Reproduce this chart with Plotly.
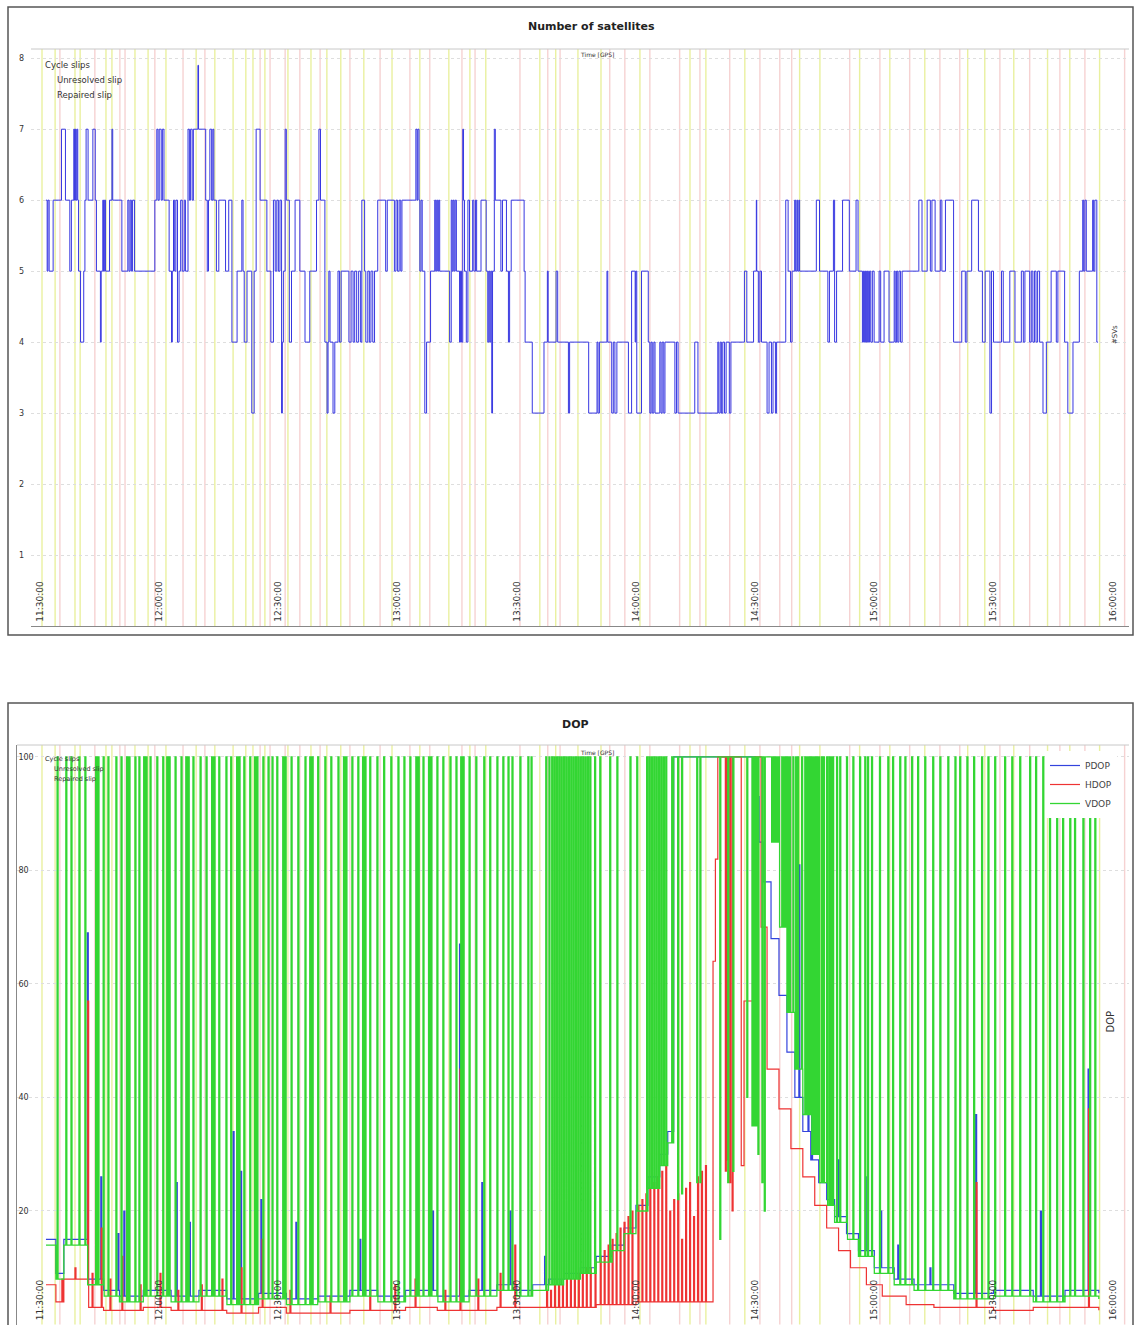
import plotly.graph_objects as go

# ---------------- DATA (time = minutes after 11:30:00 GPS) ----------------
tick_minutes = [0, 30, 60, 90, 120, 150, 180, 210, 240, 270]
tick_labels = ["11:30:00", "12:00:00", "12:30:00", "13:00:00", "13:30:00",
               "14:00:00", "14:30:00", "15:00:00", "15:30:00", "16:00:00"]

# number of satellites: (time of change, count)
sv_steps = [
    (1.5,6),(1.8,5),(2.0,6),(2.3,5),(3.3,6),(5.4,7),(6.4,6),(7.5,5),(7.9,6),(8.5,7),(8.7,6),(8.9,7),(9.1,6),(9.3,7),(9.5,6),(9.7,5),(10.2,4),(11.0,5),(11.3,6),(11.6,7),(12.1,6),(13.3,7),(13.9,6),(14.2,5),(15.2,4),(15.4,5),(15.8,6),(16.0,5),(16.2,6),(16.5,5),(17.5,6),(18.1,7),(18.3,6),(20.6,5),(22.1,6),(22.4,5),(22.7,6),(23.0,5),(23.3,6),(23.8,5),
    (28.9,6),(29.4,7),(29.7,6),(30.0,7),(30.5,6),(30.8,7),(31.2,6),(32.5,5),(33.1,4),(33.3,5),(33.6,6),(33.9,5),(34.2,6),(34.6,4),(35.0,5),(35.4,6),(35.8,5),(36.3,6),(36.6,5),(37.25,7),(37.6,6),(37.9,7),(38.3,6),(38.6,7),(39.75,7.9),(39.9,7),(41.7,6),(42.1,5),(42.4,6),(42.75,7),(43.2,6),(43.5,7),(43.75,6),(44.4,5),(45.0,6),(46.7,5),(47.5,6),(48.3,4),(49.6,5),(50.8,6),(51.1,5),(51.4,4),(52.1,5),(53.3,3),(53.9,5),(54.4,7),(55.4,6),(57.1,5),(58.1,4),(58.75,6),(59.2,5),(59.6,6),(60.0,5),(60.4,6),(60.8,3),(61.0,4),(61.25,5),(61.7,7),(62.0,6),(62.75,4),(63.3,5),(64.2,6),(65.4,5),(66.7,4),(67.9,5),(69.6,6),(70.2,7),(70.6,6),(71.7,4),(72.25,3),(72.5,4),(72.7,5),(73.0,4),(73.75,3),(74.2,4),(75.0,5),(75.4,4),(75.8,5),(77.75,4),(78.3,5),(78.8,4),(79.2,5),(79.7,4),(80.2,5),(80.7,4),(81.0,6),(81.7,5),(82.0,4),(82.5,5),(82.9,4),(83.3,5),(83.75,4),(84.2,5),(85.0,6),(87.0,5),(87.4,6),(89.2,5),(89.6,6),(90.0,5),(90.4,6),
    (90.8,5),(91.1,6),(94.6,7),(94.9,6),(95.1,7),(95.4,6),(95.6,5),(95.9,6),(96.2,5),(96.85,3),(97.3,4),(98.3,5),(99.35,6),(99.6,5),(99.85,6),(100.1,5),(100.35,6),(100.6,5),(103.1,4),(103.5,6),(103.75,5),(104.0,6),(104.25,5),(104.5,6),(104.8,5),(105.6,4),(105.85,5),(106.1,4),(106.4,7),(106.6,6),(106.85,5),(107.3,4),(107.7,6),(108.1,5),(108.9,6),(109.2,5),(109.6,6),(109.9,5),(111.0,6),(112.3,5),(112.7,4),(112.95,5),(113.2,4),(113.45,5),(113.7,3),(113.9,5),(114.35,7),(114.6,6),(116.0,5),(116.4,6),(117.4,5),(117.9,4),(118.2,5),(118.6,6),(121.85,5),(122.1,4),(123.9,3),(126.85,4),(127.7,5),(127.9,4),(129.9,5),(130.3,4),(133.0,3),(133.3,4),(138.1,3),(140.2,4),(140.45,3),(140.8,4),(142.7,5),(142.9,4),(143.9,3),(144.3,4),(144.7,3),(145.2,4),(148.1,3),(148.9,5),(149.8,4),(149.95,5),(150.2,3),(151.4,5),(153.1,4),(153.5,3),(153.8,4),(154.1,3),(154.5,4),(154.8,3),(156.0,4),(156.3,3),(156.6,4),(157.0,3),(157.3,4),(159.8,3),(160.2,4),(160.6,3),(164.8,4),(165.6,3),(170.6,4),(170.85,3),(171.2,4),(171.5,3),(171.85,4),(172.3,3),(172.7,4),(173.5,3),(173.9,4),(177.3,5),(177.9,4),(179.6,5),(180.3,6),(180.4,5),(180.8,4),
    (181.2,5),(181.6,4),(183.0,3),(183.5,4),(184.1,3),(184.5,4),(185.1,3),(185.4,4),(187.7,6),(188.3,5),(188.9,4),(189.3,5),(189.95,6),(190.2,5),(190.5,6),(190.7,5),(191.0,6),(191.2,5),(195.4,6),(196.2,5),(198.3,4),(198.7,5),(199.7,6),(200.0,4),(200.5,5),(202.0,6),(203.7,5),(205.4,6),(205.9,5),(207.0,4),(207.25,5),(207.5,4),(207.75,5),(208.0,4),(208.25,5),(208.5,4),(208.8,5),(209.1,4),(209.5,5),(209.95,4),(211.2,5),(211.6,4),(212.45,5),(213.7,4),(215.0,5),(215.25,4),(215.6,5),(215.9,4),(216.2,5),(216.6,4),(217.0,5),(221.2,6),(222.0,5),(223.3,6),(224.1,5),(224.5,6),(225.3,5),(226.6,6),(227.0,5),(227.9,6),(229.95,4),(232.0,5),(232.9,4),(233.3,5),(234.5,6),(236.2,5),(237.2,4),(237.9,5),(239.1,3),(239.5,5),(240.0,4),(242.0,5),(242.45,4),(244.1,5),(245.4,4),(247.0,5),(247.5,4),(247.9,5),(249.1,4),(249.5,5),(249.9,4),(250.3,5),(250.7,4),(251.1,5),(251.6,4),(252.45,3),(253.3,4),(254.5,5),(255.8,4),(256.2,5),(257.9,4),(258.7,3),(260.0,4),(261.6,5),(262.45,6),(262.7,5),(263.0,6),(263.35,5),(264.95,6),(265.2,5),(265.5,6),(266.0,4),(266.3,4),
]

# cycle slip epochs
unresolved_slips = [0.5, 3.8, 8.8, 10.1, 16.6, 18.1, 23.9, 27.2, 31.7, 39.3, 44.0, 48.6, 51.8, 53.6, 56.6, 62.4, 68.2, 72.2, 75.7, 81.5, 88.6, 95.6, 102.9, 108.2, 112.2, 125.8, 129.8, 135.4, 141.2, 151.0, 163.6, 167.6, 177.4, 191.2, 196.3, 206.3, 213.9, 222.7, 233.5, 237.8, 245.1, 253.6, 259.2, 266.7]
repaired_slips = [5.0, 13.8, 20.1, 21.4, 28.9, 36.0, 41.5, 55.4, 57.9, 61.7, 65.4, 70.5, 78.0, 85.6, 93.1, 98.1, 106.2, 109.5, 120.8, 127.8, 130.9, 143.4, 147.2, 153.5, 161.0, 166.1, 173.6, 181.2, 186.2, 189.2, 203.8, 211.4, 218.9, 226.5, 231.5, 241.6, 249.1, 256.7, 263.0, 273.0]

# DOP baselines (time, value)
vdop_base = [(1.5,14),(4,8),(6,14),(12,7),(16,5),(20,4),(26,5),(33,4),(40,5),(47,3.5),(55,4.5),(62,3.5),(70,4),(78,5),(85,4),(92,5),(100,4),(108,5),(115,6),(120,5),(124,6),(128,7),(132,8),(136,9),(140,11),(144,13),(147,16),(150,20),(153,24),(156,28),(158,32),(159.5,100),(183,100),(184,85),(186,70),(188,55),(190,45),(192,37),(194,30),(196,25),(198,21),(200,18),(203,15),(206,12),(210,9),(215,7),(220,6),(230,4.5),(240,5),(250,4),(258,5),(266.5,4.5)]
pdop_base = [(1.5,15),(4,9),(6,15),(12,8),(16,6),(20,5),(26,6),(33,5),(40,6),(47,4.5),(55,5.5),(62,4.5),(70,5),(78,6),(85,5),(92,6),(100,5),(108,6),(115,7),(120,6),(124,7),(128,8),(132,9),(136,10),(140,12),(144,14),(147,17),(150,21),(153,26),(156,30),(158,34),(159.5,100),(180,93),(181,85),(182,78),(184,68),(186,58),(188,48),(190,40),(192,34),(194,29),(196,25),(198,22),(200,19),(203,16),(206,13),(210,10),(215,8),(220,7),(230,5.5),(240,6),(250,5),(258,6),(266.5,5.5)]
hdop_base = [(1.5,7),(4,4),(6,8),(12,3),(16,2.5),(26,3),(33,2.5),(47,2),(55,3),(62,2),(78,2.5),(92,3),(100,2.5),(115,3),(124,3),(140,3.5),(150,4),(169.4,64),(170,82),(170.6,100),(176.5,28),(177.2,57),(180,100),(181.5,70),(183,45),(186,38),(189,31),(192,26),(195,21),(198,17),(201,13),(204,10),(208,7),(212,5),(218,3.5),(225,3),(240,2.5),(250,3),(266.5,2.5)]

# epochs where VDOP hits the 100 clip
vdop_spike_t = [4.3, 6.5, 7.8, 9.8, 11.3, 14.0, 14.3, 14.6, 15.9, 17.1, 19.1, 20.4, 21.8, 22.1, 22.4, 23.9, 24.9, 26.1, 26.4, 26.7, 27.7, 29.4,
                30.9, 31.9, 32.2, 32.5, 34.0, 35.5, 36.7, 37.0, 37.3, 38.5, 40.3, 41.8, 43.2, 43.5, 43.8, 45.0, 46.8, 48.0, 49.5, 49.8, 50.1, 51.3, 52.8, 54.0, 54.3, 54.6, 56.1, 57.4, 58.4, 59.6,
                61.1, 61.4, 61.7, 63.2, 64.9, 66.7, 67.9, 68.2, 68.5, 69.9, 71.7, 73.2, 75.0, 76.4, 76.7, 77.0, 78.5, 80.0, 81.2, 81.5, 81.8, 83.0, 84.8, 86.5, 88.3, 90.1,
                91.6, 93.1, 94.6, 94.9, 95.2, 96.4, 97.8, 98.1, 98.4, 99.9, 101.4, 103.2, 104.7, 105.9, 106.2, 106.5, 108.0, 109.7, 111.7, 113.2, 115.0, 116.5, 117.8, 118.8, 120.8, 122.8, 123.6,
                127.3, 128.1, 128.8, 129.4, 130.0, 130.6, 131.2, 131.8, 132.4, 133.0, 133.6, 134.2, 134.8, 135.4, 136.0, 136.6, 137.2, 137.8, 138.4,
                139.6, 140.9, 143.4, 145.2, 148.5, 150.2, 152.7, 153.3, 153.9, 154.5, 155.1, 155.7, 156.3, 156.9, 157.5, 159.0,
                182.9, 183.4, 183.9, 184.4, 184.9, 185.4, 185.9, 186.7, 187.2, 187.7, 188.2, 188.7, 189.5, 190.2, 190.7, 191.7, 192.5, 193.0, 193.5, 194.0, 194.5, 195.0, 195.5, 196.0, 196.7, 197.2, 198.0, 198.6, 199.0, 199.5,
                200.5, 201.3, 203.0, 204.6, 206.3, 207.6, 208.3, 209.3, 211.3, 213.4, 214.6, 216.4, 217.7, 219.4, 220.9, 222.7, 224.7, 226.5, 228.5, 230.3, 231.5, 233.3, 235.0, 237.0, 238.6, 240.3,
                242.8, 244.6, 246.6, 249.1, 250.6, 252.4, 254.1, 255.9, 257.4, 259.2, 260.4, 262.5, 264.2, 265.5]
# short drops of VDOP while it sits on the clip
vdop_dips = [(160.5,22),(161.5,23),(165.3,25),(166.1,25),(171.1,15),(173.1,25),(174.4,27),(177.9,40),(179.2,35),(179.7,35),(180.2,35),(180.7,30),(181.7,25),(182.3,20)]
# isolated PDOP / HDOP peaks
pdop_peaks = [(11.9,69),(15.3,26),(19.6,16),(21.1,20),(34.3,25),(37.6,18),(48.6,34),(50.5,27),(55.6,22),(64.4,18),(80.5,15),(98.8,20),(105.6,67),(111.2,25),(118.3,20),(127.0,12),(191.0,81),(193.3,53),(194.2,47),(199.2,31),(200.9,29),(208.1,26),(211.6,20),(215.9,14),(224.0,10),(235.5,37),(251.8,20),(263.8,45)]
hdop_peaks = [(5.5,8),(8.8,10),(12.0,57),(13.1,9),(15.4,17),(17.6,8),(20.6,12),(25.2,7),(30.2,9),(34.7,6),(40.6,7),(45.8,8),(50.6,10),(55.9,15),(62.9,6),(73.0,5),(83.0,6),(89.3,7),(94.4,8),(101.9,6),(105.7,45),(110.2,8),(115.8,9),(119.5,14),
              (127.5,6),(128.5,6),(129.5,7),(130.5,7),(131.5,7),(132.5,8),(133.5,8),(134.5,8),(135.5,9),(136.5,9),(137.5,10),(138.5,10),(139.7,11),(141.0,12),(142.0,13),(143.0,14),(144.0,15),(145.0,16),(146.0,17),(147.0,18),(148.0,19),(149.0,20),(150.5,21),(151.5,22),(152.5,23),(153.5,24),(154.5,25),(155.5,26),(156.5,27),(157.5,28),(158.5,20),(159.5,22),(160.5,23),(161.5,15),(162.5,24),(163.5,25),(164.5,19),(165.5,26),(166.5,27),(167.5,28),
              (172.5,27),(173.0,29),(173.6,25),(174.2,20),(235.6,25),(263.9,38)]

EPOCH = 0.25      # sampling interval (min)
DOP_CLIP = 100

# ---------------- helpers ----------------
def step_value(base, t):
    v = base[0][1]
    for bt, bv in base:
        if bt <= t:
            v = bv
        else:
            break
    return v

def build(base, overrides):
    events = set(bt for bt, _ in base)
    for t, _ in overrides:
        events.add(round(t, 4))
        events.add(round(t + EPOCH, 4))
    xs, ys = [], []
    t0, t1 = base[0][0], base[-1][0]
    for e in sorted(events):
        if e < t0 or e > t1:
            continue
        val = step_value(base, e)
        for t, v in overrides:
            if t <= e < t + EPOCH:
                val = v
        xs.append(e)
        ys.append(val)
    return xs, ys

W, H = 1135, 1325
def px(x): return x / W
def py(y): return 1 - y / H

FONT = "DejaVu Sans"
BLUE_SV = "rgb(55,55,225)"
C_P, C_H, C_V = "#3344dd", "#ee3333", "#33d633"
YEL = "rgba(215,228,80,0.55)"
PNK = "rgba(238,165,165,0.5)"

fig = go.Figure()

fig.add_trace(go.Scatter(x=[t for t, _ in sv_steps], y=[n for _, n in sv_steps],
                         mode="lines", line=dict(color=BLUE_SV, width=1, shape="hv"),
                         xaxis="x", yaxis="y", showlegend=False, hoverinfo="skip"))

px_, py_ = build(pdop_base, pdop_peaks)
hx_, hy_ = build(hdop_base, hdop_peaks)
vx_, vy_ = build(vdop_base, [(t, DOP_CLIP) for t in vdop_spike_t] + vdop_dips)

fig.add_trace(go.Scatter(x=px_, y=py_, mode="lines", name="PDOP",
                         line=dict(color=C_P, width=1.2, shape="hv"), xaxis="x2", yaxis="y2"))
fig.add_trace(go.Scatter(x=hx_, y=hy_, mode="lines", name="HDOP",
                         line=dict(color=C_H, width=1.2, shape="hv"), xaxis="x2", yaxis="y2"))
fig.add_trace(go.Scatter(x=vx_, y=vy_, mode="lines", name="VDOP",
                         line=dict(color=C_V, width=1.3, shape="hv"), xaxis="x2", yaxis="y2"))

shapes = []
for lst, col in ((unresolved_slips, YEL), (repaired_slips, PNK)):
    for t in lst:
        for xr, yr in (("x", "y domain"), ("x2", "y2 domain")):
            shapes.append(dict(type="line", xref=xr, yref=yr, x0=t, x1=t, y0=0, y1=1,
                               line=dict(color=col, width=1.4), layer="below"))
# panel frames
shapes.append(dict(type="rect", xref="paper", yref="paper", x0=px(8), x1=px(1133),
                   y0=py(635), y1=py(7), line=dict(color="#555", width=1.5)))
shapes.append(dict(type="rect", xref="paper", yref="paper", x0=px(8), x1=px(1133),
                   y0=-0.05, y1=py(703), line=dict(color="#555", width=1.5)))
for xr, yr in (("x domain", "y domain"), ("x2 domain", "y2 domain")):
    shapes.append(dict(type="line", xref=xr, yref=yr, x0=0, x1=1, y0=1, y1=1,
                       line=dict(color="#c8c8c8", width=1), layer="below"))

def ann(x, y, text, size, **kw):
    d = dict(x=px(x), y=py(y), xref="paper", yref="paper", text=text, showarrow=False,
             yanchor="middle",
             font=dict(family=FONT, size=size, color=kw.pop("color", "#333")))
    d.update(kw)
    return d

annotations = [
    ann(591, 27, "<b>Number of satellites</b>", 11, color="#222"),
    ann(575, 724, "<b>DOP</b>", 11, color="#222"),
    ann(597, 55, "Time [GPS]", 6),
    ann(597, 752, "Time [GPS]", 6),
    ann(43, 65, "Cycle slips", 8.5, xanchor="left"),
    ann(55, 80, "Unresolved slip", 8.5, xanchor="left"),
    ann(55, 95, "Repaired slip", 8.5, xanchor="left"),
    ann(43, 759, "Cycle slips", 6.5, xanchor="left"),
    ann(52, 769, "Unresolved slip", 6.5, xanchor="left"),
    ann(52, 779, "Repaired slip", 6.5, xanchor="left"),
    ann(1121, 335, "#SVs", 7, textangle=-90),
    ann(1117, 1022, "DOP", 10, textangle=-90),
]

xcommon = dict(tickvals=tick_minutes, ticktext=tick_labels, tickangle=-90,
               ticklabelposition="inside", tickfont=dict(family=FONT, size=9, color="#333"),
               showgrid=False, zeroline=False, showline=True, linecolor="#888", linewidth=1,
               ticks="")

fig.update_layout(
    width=W, height=H, margin=dict(l=0, r=0, t=0, b=0),
    paper_bgcolor="white", plot_bgcolor="white",
    font=dict(family=FONT, color="#333"),
    xaxis=dict(domain=[px(31), px(1129)], range=[-2.27, 274.1], anchor="y", **xcommon),
    yaxis=dict(domain=[py(626), py(49)], range=[0, 8.13], anchor="x",
               tickvals=[1, 2, 3, 4, 5, 6, 7, 8], tickfont=dict(family=FONT, size=8, color="#333"),
               showgrid=True, gridcolor="#dedede", griddash="dot", zeroline=False,
               showline=False, ticks="", ticklabelstandoff=6),
    xaxis2=dict(domain=[px(17), px(1129)], range=[-5.79, 274.1], anchor="y2", **xcommon),
    yaxis2=dict(domain=[py(1324.5), py(745)], range=[0, 102.1], anchor="x2",
                tickvals=[0, 20, 40, 60, 80, 100], tickfont=dict(family=FONT, size=8, color="#333"),
                ticklabelposition="inside",
                showgrid=True, gridcolor="#dedede", griddash="dot", zeroline=False,
                showline=True, linecolor="#888", ticks=""),
    shapes=shapes, annotations=annotations,
    legend=dict(x=px(1045), y=py(751), xanchor="left", yanchor="top",
                bgcolor="white", font=dict(family=FONT, size=9, color="#444"),
                itemwidth=30, tracegroupgap=0),
    showlegend=True,
)

fig.write_html("out.html")
